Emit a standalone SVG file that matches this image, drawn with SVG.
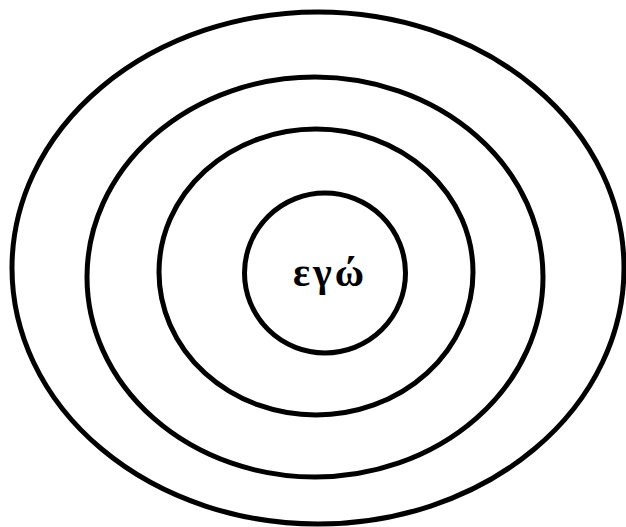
<svg xmlns="http://www.w3.org/2000/svg" width="626" height="527" viewBox="0 0 626 527">
<style>
.ring{fill:none;stroke:#000;stroke-width:5}
.lbl{font-family:"Liberation Serif","DejaVu Serif",serif;font-weight:bold;font-size:40px;fill:#000}
</style>
<rect width="626" height="527" fill="#fff"/>
<g id="ring4"><ellipse class="ring" cx="318" cy="268" rx="306" ry="256"/></g>
<g id="ring3"><ellipse class="ring" cx="315" cy="277" rx="228" ry="200"/></g>
<g id="ring2"><ellipse class="ring" cx="316" cy="272" rx="157" ry="143"/></g>
<g id="ego"><ellipse class="ring" cx="325" cy="273" rx="80.5" ry="80"/>
<text class="lbl" x="330" y="286" text-anchor="middle" letter-spacing="3">εγώ</text></g>
<g id="connectors"/>
</svg>
